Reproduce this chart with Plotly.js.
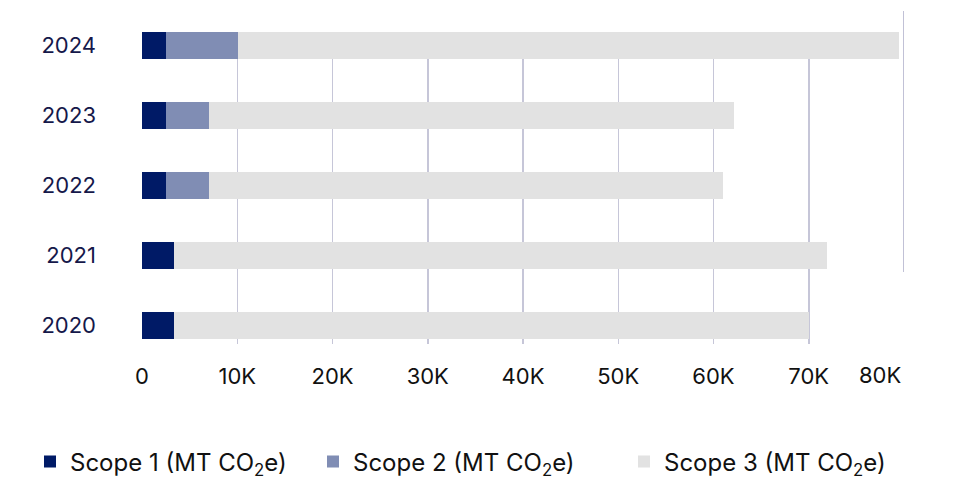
<!DOCTYPE html>
<html>
<head>
<meta charset="utf-8">
<script src="https://cdn.plot.ly/plotly-3.0.1.min.js"></script>
<style>
  html, body { margin: 0; padding: 0; background: #ffffff; }
  #chart { width: 953px; height: 478px; }
</style>
</head>
<body>
<div id="chart"></div>
<script>
// Emissions by year, in metric tonnes CO2e
const years = ['2020', '2021', '2022', '2023', '2024'];
const scope1 = [3360, 3360, 2520, 2520, 2520];
const scope2 = [0, 0, 4500, 4500, 7560];
const scope3 = [66700, 68550, 54000, 55100, 69400];

const seriesNames = [
  'Scope 1 (MT CO<sub>2</sub>e)',
  'Scope 2 (MT CO<sub>2</sub>e)',
  'Scope 3 (MT CO<sub>2</sub>e)'
];
const seriesColors = ['#001a66', '#808db4', '#e2e2e2'];

const tickVals = [0, 10000, 20000, 30000, 40000, 50000, 60000, 70000];
const tickText = ['0', '10K', '20K', '30K', '40K', '50K', '60K', '70K'];
const lastTickVal = 80000;
const lastTickText = '80K';

const fontFamily = 'Inter, "Noto Sans", sans-serif';
const gridColor = '#c6c6d8';

const seriesValues = [scope1, scope2, scope3];
const legendIds = ['legend', 'legend2', 'legend3'];
const legendLeft = [30, 313, 624];   // left edge of each legend entry, px

const traces = seriesValues.map((vals, i) => ({
  type: 'bar',
  orientation: 'h',
  y: years,
  x: vals,
  name: seriesNames[i],
  marker: { color: seriesColors[i], line: { width: 0 } },
  legend: legendIds[i],
  hoverinfo: 'skip'
}));

const W = 953, H = 478;

function legendAt(left) {
  return {
    orientation: 'h',
    xref: 'container', yref: 'container',
    xanchor: 'left', yanchor: 'middle',
    x: left / W,
    y: (H - 462) / H,
    bgcolor: 'rgba(0,0,0,0)',
    font: { family: fontFamily, size: 24, color: '#111111' },
    itemclick: false,
    itemdoubleclick: false
  };
}

const layout = {
  width: W,
  height: H,
  margin: { l: 142, r: 49, t: 32, b: 134, autoexpand: false },
  paper_bgcolor: '#ffffff',
  plot_bgcolor: '#ffffff',
  barmode: 'stack',
  bargap: 0.614,
  showlegend: true,
  legend: legendAt(legendLeft[0]),
  legend2: legendAt(legendLeft[1]),
  legend3: legendAt(legendLeft[2]),
  xaxis: {
    range: [0, 80000],
    tickmode: 'array',
    tickvals: tickVals,
    ticktext: tickText,
    showgrid: true,
    gridcolor: gridColor,
    gridwidth: 1.5,
    zeroline: false,
    showline: false,
    ticks: '',
    ticklabelstandoff: 17,
    tickfont: { family: fontFamily, size: 22, color: '#111111' },
    automargin: false,
    fixedrange: true
  },
  yaxis: {
    type: 'category',
    range: [-0.264, 4.193],
    showgrid: false,
    zeroline: false,
    showline: false,
    ticks: '',
    ticklabelstandoff: 45,
    tickfont: { family: fontFamily, size: 22, color: '#15184a' },
    automargin: false,
    fixedrange: true
  },
  shapes: [{
    type: 'line',
    xref: 'x', yref: 'paper',
    x0: lastTickVal, x1: lastTickVal,
    y0: 0.231, y1: 1.067,
    line: { color: '#acacc8', width: 1.5 },
    layer: 'below'
  }],
  annotations: [{
    xref: 'x', yref: 'paper',
    x: lastTickVal, y: 0,
    xshift: -24, yshift: -31,
    xanchor: 'center', yanchor: 'middle',
    text: lastTickText,
    showarrow: false,
    font: { family: fontFamily, size: 22, color: '#111111' }
  }]
};

Plotly.newPlot('chart', traces, layout, { displayModeBar: false, staticPlot: true });
</script>
</body>
</html>
